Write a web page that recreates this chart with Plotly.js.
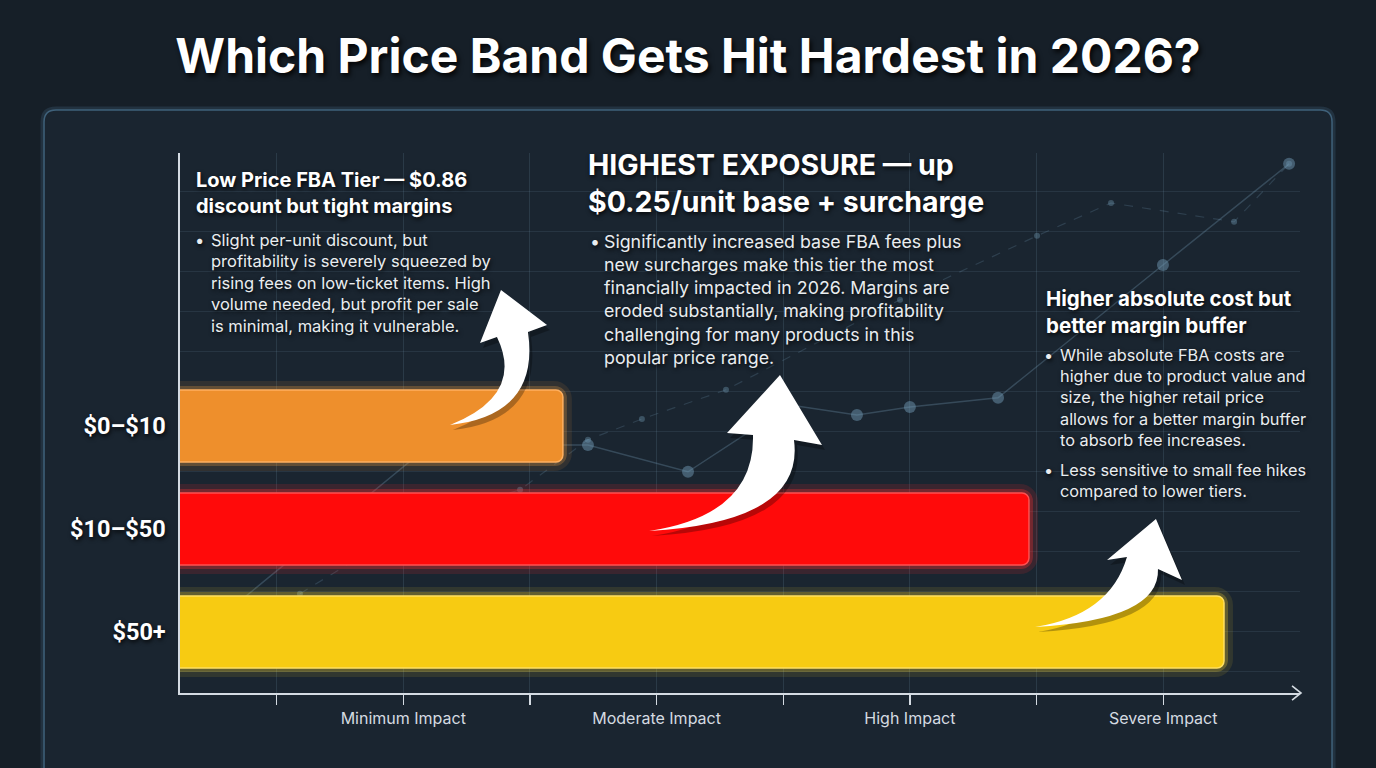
<!DOCTYPE html>
<html>
<head>
<meta charset="utf-8">
<script src="https://cdn.plot.ly/plotly-3.0.1.min.js"></script>
<style>
html,body{margin:0;padding:0;background:#161f28;}
#chart{width:1376px;height:768px;}
</style>
</head>
<body>
<div id="chart"></div>
<script>
// ---------------- DATA ----------------
const chartTitle = 'Which Price Band Gets Hit Hardest in 2026?';
const categories = ['$0–$10', '$10–$50', '$50+'];
const impactScores = [1.63, 3.47, 4.24];
const barColors = ['#EE8F2C', '#FF0A0A', '#F7CB12'];
const edgeColors = ['#ffb060', '#ff5050', '#ffe060'];
const glowSoft = ['rgba(255,160,60,0.10)', 'rgba(255,40,40,0.14)', 'rgba(255,215,40,0.10)'];
const glowMid = ['rgba(255,170,70,0.24)', 'rgba(255,50,50,0.30)', 'rgba(255,220,50,0.24)'];
const tickVals = [0.5, 1, 1.5, 2, 2.5, 3, 3.5, 4];
const tickLabels = ['', 'Minimum Impact', '', 'Moderate Impact', '', 'High Impact', '', 'Severe Impact'];

// faint decorative trend drawn in the background
const backdropX = [0.217, 1.105, 1.729, 2.124, 2.527, 2.791, 3.000, 3.348, 3.999, 4.497];
const backdropY = [2.03, 6.65, 6.65, 5.98, 7.65, 7.40, 7.60, 7.83, 11.15, 13.68];
const backdrop2X = [0.592, 1.066, 1.461, 1.729, 1.942, 2.274, 2.961, 3.502, 3.794, 4.280, 4.497];
const backdrop2Y = [2.93, 4.78, 5.53, 6.78, 7.30, 8.03, 10.28, 11.88, 12.70, 12.23, 13.68];

// callout texts
const note1Head = 'Low Price FBA Tier — $0.86<br>discount but tight margins';
const note1Body = 'Slight per-unit discount, but<br>profitability is severely squeezed by<br>rising fees on low-ticket items. High<br>volume needed, but profit per sale<br>is minimal, making it vulnerable.';
const note2Head = 'HIGHEST EXPOSURE — up<br>$0.25/unit base + surcharge';
const note2Body = 'Significantly increased base FBA fees plus<br>new surcharges make this tier the most<br>financially impacted in 2026. Margins are<br>eroded substantially, making profitability<br>challenging for many products in this<br>popular price range.';
const note3Head = 'Higher absolute cost but<br>better margin buffer';
const note3BodyA = 'While absolute FBA costs are<br>higher due to product value and<br>size, the higher retail price<br>allows for a better margin buffer<br>to absorb fee increases.';
const note3BodyB = 'Less sensitive to small fee hikes<br>compared to lower tiers.';

// ---------------- LAYOUT HELPERS ----------------
const W = 1376, H = 768;
const M = {l: 180, r: 76, t: 153, b: 75};
const PW = W - M.l - M.r, PH = H - M.t - M.b;
const px = x => (x - M.l) / PW;
const py = y => (H - M.b - y) / PH;
const P = (p) => px(p[0]).toFixed(4) + ',' + py(p[1]).toFixed(4);

const FONT = 'Inter, Roboto, "Liberation Sans", sans-serif';
const FONT_R = 'Roboto, Inter, sans-serif';
const SHADOW = '1px 2px 4px rgba(0,0,0,0.85)';

function arrowPath(a, dx, dy) {
  const s = p => P([p[0] + dx, p[1] + dy]);
  return 'M' + s(a.tip) + ' L' + s(a.rw) + ' L' + s(a.ri) +
    ' Q' + s(a.oc) + ' ' + s(a.tail) +
    ' Q' + s(a.ic) + ' ' + s(a.li) +
    ' L' + s(a.lw) + ' Z';
}
const arrowDefs = [
  {tip: [501, 290], rw: [547, 325], ri: [528, 332], oc: [540, 415], tail: [450, 425], ic: [525, 395], li: [497, 337], lw: [480, 343]},
  {tip: [780, 375], rw: [822, 445], ri: [794, 440], oc: [805, 522], tail: [649, 531], ic: [755, 515], li: [753, 435], lw: [727, 433]},
  {tip: [1156, 519], rw: [1182, 580], ri: [1158, 569], oc: [1160, 620], tail: [1035, 627], ic: [1110, 615], li: [1127, 557], lw: [1107, 560]}
];

const shapes = [];
const panel = (x0, y0, x1, y1, r) =>
  'M' + P([x0 + r, y0]) + ' L' + P([x1 - r, y0]) + ' Q' + P([x1, y0]) + ' ' + P([x1, y0 + r]) +
  ' L' + P([x1, y1]) + ' L' + P([x0, y1]) + ' L' + P([x0, y0 + r]) + ' Q' + P([x0, y0]) + ' ' + P([x0 + r, y0]) + ' Z';
shapes.push({type: 'path', xref: 'paper', yref: 'paper', layer: 'below', path: panel(44, 110, 1332, 800, 12),
  fillcolor: 'rgba(0,0,0,0)', line: {color: 'rgba(90,140,175,0.18)', width: 7}});
shapes.push({type: 'path', xref: 'paper', yref: 'paper', layer: 'below', path: panel(44, 110, 1332, 800, 12),
  fillcolor: '#1a2530', line: {color: '#3f617a', width: 1.5}});
// x-axis arrow head
shapes.push({type: 'path', xref: 'paper', yref: 'paper', path: 'M' + P([1292, 686]) + ' L' + P([1301, 693]) + ' L' + P([1292, 700]),
  line: {color: '#d4dbe2', width: 1.6}});
// curved arrows (shadow + white)
arrowDefs.forEach(a => {
  shapes.push({type: 'path', xref: 'paper', yref: 'paper', path: arrowPath(a, 3, 5), fillcolor: 'rgba(0,0,0,0.28)', line: {width: 0}});
  shapes.push({type: 'path', xref: 'paper', yref: 'paper', path: arrowPath(a, 0, 0), fillcolor: '#ffffff', line: {width: 0}});
});

function note(text, x, y, size, bold, color) {
  return {xref: 'paper', yref: 'paper', x: px(x), y: py(y), xanchor: 'left', yanchor: 'top', align: 'left',
    showarrow: false, text: text,
    font: {family: FONT, size: size, color: color || '#ffffff', weight: bold ? 700 : 400, shadow: SHADOW}};
}
const BODY = '#e9edf0';
const annotations = [
  note(note1Head, 194, 166, 20, true),
  note('•', 193, 228, 16.5, false, BODY),
  note(note1Body, 209, 228, 16.5, false, BODY),
  note(note2Head, 586, 145, 28.5, true),
  note('•', 588, 229, 17.8, false, BODY),
  note(note2Body, 602, 229, 17.8, false, BODY),
  note(note3Head, 1044, 284, 20.5, true),
  note('•', 1042, 343, 16.3, false, BODY),
  note(note3BodyA, 1058, 343, 16.3, false, BODY),
  note('•', 1042, 458, 16.3, false, BODY),
  note(note3BodyB, 1058, 458, 16.3, false, BODY)
];

// ---------------- TRACES ----------------
const barBase = {type: 'bar', orientation: 'h', x: impactScores, y: categories, xaxis: 'x', yaxis: 'y2',
  width: 0.7, hoverinfo: 'skip', showlegend: false};
const traces = [
  {type: 'scatter', mode: 'lines+markers', x: backdropX, y: backdropY, xaxis: 'x', yaxis: 'y',
    line: {color: 'rgba(120,160,185,0.30)', width: 1.5},
    marker: {color: 'rgba(110,150,175,0.50)', size: 12}, hoverinfo: 'skip', showlegend: false},
  {type: 'scatter', mode: 'lines+markers', x: backdrop2X, y: backdrop2Y, xaxis: 'x', yaxis: 'y',
    line: {color: 'rgba(120,160,185,0.22)', width: 1.2, dash: 'dash'},
    marker: {color: 'rgba(110,150,175,0.40)', size: 6}, hoverinfo: 'skip', showlegend: false},
  Object.assign({}, barBase, {marker: {color: 'rgba(0,0,0,0)', cornerradius: 9, line: {color: glowSoft, width: 18}}}),
  Object.assign({}, barBase, {marker: {color: 'rgba(0,0,0,0)', cornerradius: 8, line: {color: glowMid, width: 8}}}),
  Object.assign({}, barBase, {marker: {color: barColors, cornerradius: 7, line: {color: edgeColors, width: 1.5}}})
];

const layout = {
  width: W, height: H,
  paper_bgcolor: '#161f28', plot_bgcolor: 'rgba(0,0,0,0)',
  margin: M,
  barmode: 'overlay',
  title: {text: chartTitle, xref: 'container', yref: 'container', x: 0.5, y: 1 - 56 / H, xanchor: 'center', yanchor: 'middle',
    font: {family: FONT, size: 48, color: '#ffffff', weight: 700, shadow: '2px 3px 5px rgba(0,0,0,0.9)'}},
  showlegend: false,
  xaxis: {range: [(M.l - 150) / 253.3, (W - M.r - 150) / 253.3], tickmode: 'array', tickvals: tickVals, ticktext: tickLabels,
    showgrid: true, gridcolor: 'rgba(130,165,190,0.16)', gridwidth: 1, zeroline: false,
    showline: true, linecolor: '#d4dbe2', linewidth: 1.6, ticks: 'outside', ticklen: 10, tickwidth: 1.2, tickcolor: '#d4dbe2',
    tickfont: {family: FONT, size: 16, color: '#d5dbe1'}, fixedrange: true},
  yaxis: {range: [0.45, 13.95], dtick: 1, tick0: 0, showgrid: true, gridcolor: 'rgba(130,165,190,0.13)',
    zeroline: false, showline: false, showticklabels: false, ticks: '', fixedrange: true},
  yaxis2: {overlaying: 'y', side: 'left', type: 'category', categoryorder: 'array', categoryarray: categories,
    range: [2.592, -2.65], showgrid: false, zeroline: false, showline: true, linecolor: '#d4dbe2', linewidth: 1.6,
    ticks: '', ticklabelstandoff: 8,
    tickfont: {family: FONT_R, size: 23.5, color: '#ffffff', weight: 700, shadow: SHADOW}, fixedrange: true},
  shapes: shapes,
  annotations: annotations
};

Plotly.newPlot('chart', traces, layout, {displayModeBar: false, staticPlot: true});
</script>
</body>
</html>
